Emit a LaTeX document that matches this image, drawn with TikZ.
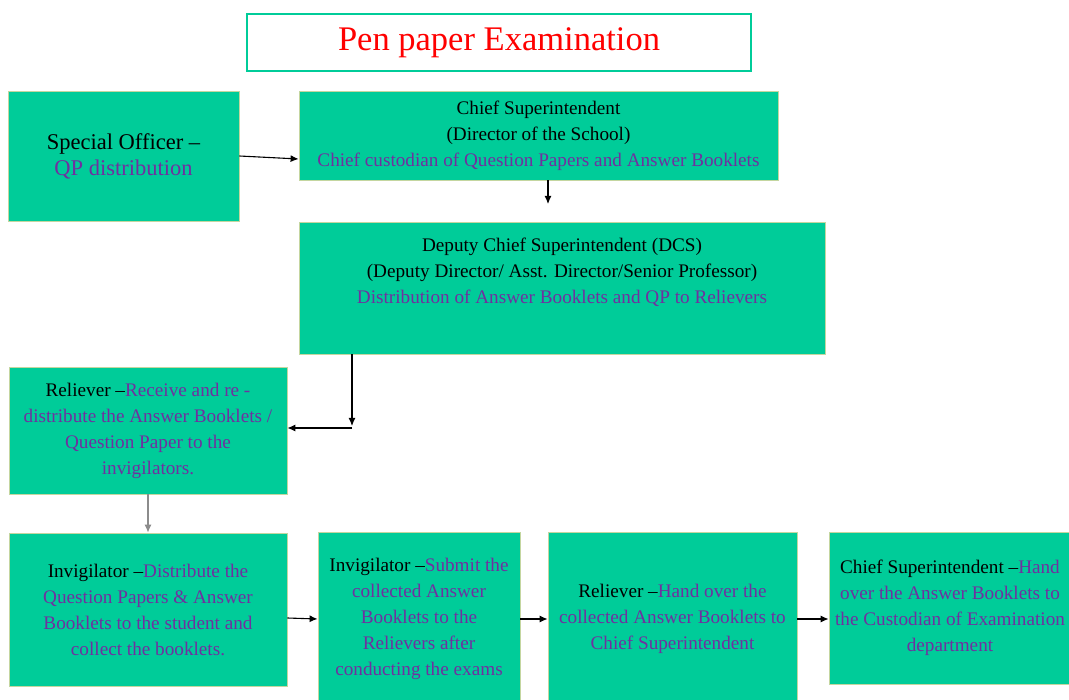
\documentclass[tikz,border=0pt]{standalone}
\usepackage{fontspec}
\setmainfont{Liberation Serif}
\usetikzlibrary{positioning}
\usetikzlibrary{calc}
\usetikzlibrary{arrows.meta}
\definecolor{boxgreen}{RGB}{0,204,153}
\definecolor{boxedge}{RGB}{196,214,160}
\definecolor{txtpurple}{RGB}{112,48,160}
\definecolor{titlered}{RGB}{255,0,0}
\tikzset{
	stagebox/.style={rectangle,fill=boxgreen,draw=boxedge,line width=0.8pt,align=center,inner sep=0pt,
		font=\fontsize{19.2}{26}\selectfont},
	titlebox/.style={rectangle,fill=white,draw=boxgreen,line width=2.5pt,align=center,inner sep=0pt,
		font=\fontsize{34.5}{36}\selectfont\color{titlered}},
	flow/.style={-{Latex[length=8pt,width=7pt]},black,line width=1.1pt},
}
\newcommand{\pur}[1]{\textcolor{txtpurple}{#1}}

\begin{document}
\begin{tikzpicture}[x=1pt,y=-1pt]
	\clip (0,0) rectangle (1069,700);
	
	%title.....................
	\node [titlebox,minimum width=504,minimum height=57] (title) at (499,42.5) {Pen paper Examination};
	
	%top row......................
	\node [stagebox,minimum width=231,minimum height=130,font=\fontsize{22.5}{26}\selectfont] (spo) at (123.5,156)
		{Special Officer –\\ \pur{QP distribution}};
	\node [stagebox,minimum width=479,minimum height=89] (chief) at (538.5,135.5)
		{Chief Superintendent\\ (Director of the School)\\ \pur{Chief custodian of Question Papers and Answer Booklets}};
	
	%DCS...................
	\node [stagebox,minimum width=526,minimum height=132] (dcs) at (562,288)
		{Deputy Chief Superintendent (DCS)\\ (Deputy Director/ Asst. Director/Senior Professor)\\
		 \pur{Distribution of Answer Booklets and QP to Relievers}\\ \strut};
	
	%reliever....................
	\node [stagebox,minimum width=278,minimum height=127] (relv) at (148,430.5)
		{Reliever –\pur{Receive and re -}\\ \pur{distribute the Answer Booklets /}\\
		 \pur{Question Paper to the}\\ \pur{invigilators.}};
	
	%bottom row....................
	\node [stagebox,minimum width=278,minimum height=153] (invg) at (148,609.5)
		{Invigilator –\pur{Distribute the}\\ \pur{Question Papers \& Answer}\\
		 \pur{Booklets to the student and}\\ \pur{collect the booklets.}};
	\node [stagebox,minimum width=202,minimum height=174] (invgsub) at (419,619)
		{Invigilator –\pur{Submit the}\\ \pur{collected Answer}\\ \pur{Booklets to the}\\
		 \pur{Relievers after}\\ \pur{conducting the exams}};
	\node [stagebox,minimum width=249,minimum height=174] (relvhand) at (672.5,619)
		{Reliever –\pur{Hand over the}\\ \pur{collected Answer Booklets to}\\ \pur{Chief Superintendent}};
	\node [stagebox,minimum width=242,minimum height=152] (chiefhand) at (950,608)
		{Chief Superintendent –\pur{Hand}\\ \pur{over the Answer Booklets to}\\
		 \pur{the Custodian of Examination}\\ \pur{department}};
	
	% connectors...................
	\coordinate (chiefend) at (548,204);
	\coordinate (dcsknee) at (352,428);
	\draw [flow] (spo.east) -- ([yshift=-23.5pt]chief.west);
	\draw [flow] (chiefend |- chief.south) -- (chiefend);
	\draw [flow] (dcsknee |- dcs.south) -- ([yshift=2pt]dcsknee);
	\draw [flow] (dcsknee) -- (relv.east |- dcsknee);
	\draw [flow,black!45] (relv.south) -- (invg.north);
	\draw [flow] ([yshift=-8.5pt]invg.east) -- (invgsub.west);
	\draw [flow] (invgsub.east) -- (relvhand.west);
	\draw [flow] (relvhand.east) -- (relvhand.east -| chiefhand.west);
	
\end{tikzpicture}
\end{document}
